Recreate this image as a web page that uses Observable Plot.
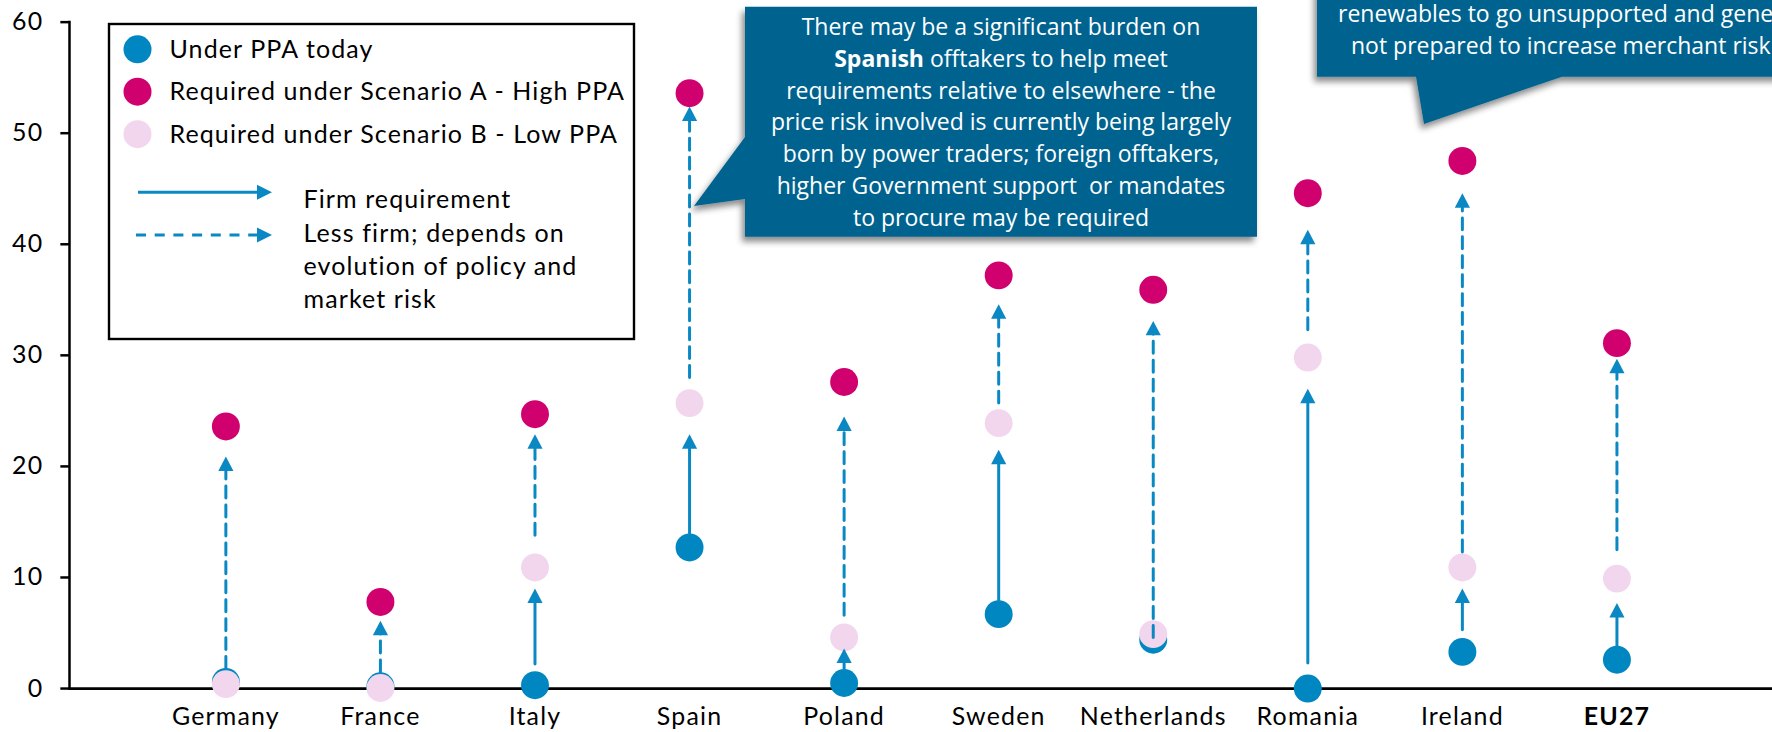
<!DOCTYPE html>
<html><head><meta charset="utf-8">
<script src="https://cdn.jsdelivr.net/npm/d3@7"></script>
<script src="https://cdn.jsdelivr.net/npm/@observablehq/plot@0.6"></script>
<style>
html,body{margin:0;padding:0;background:#fff;overflow:hidden;}
#wrap{position:relative;width:1772px;height:732px;overflow:hidden;background:#fff;}
#wrap svg{display:block;}
#wrap svg.overlay{position:absolute;left:0;top:0;pointer-events:none;}
</style></head><body><div id="wrap"></div>
<script>
// ---- data ----
const countries = ["Germany","France","Italy","Spain","Poland","Sweden","Netherlands","Romania","Ireland","EU27"];
const underPPA  = [0.6, 0.2, 0.3, 12.7, 0.5, 6.7, 4.4, 0.0, 3.3, 2.6];
const scenarioA = [23.6, 7.8, 24.7, 53.6, 27.6, 37.2, 35.9, 44.6, 47.5, 31.1];
const scenarioB = [0.4, 0.05, 10.9, 25.7, 4.6, 23.9, 4.9, 29.8, 10.9, 9.9];

// firm requirement arrows (solid): start value and arrow-tip value
const firmCountries = ["Italy","Spain","Poland","Sweden","Romania","Ireland","EU27"];
const firmFrom = [2.2, 13.9, 1.7, 7.9, 2.3, 5.3, 3.9];
const firmTip  = [9.0, 22.9, 3.6, 21.5, 27.0, 9.0, 7.7];

// less firm arrows (dashed): start value and arrow-tip value
const lessFrom = [1.8, 1.5, 13.8, 28.0, 6.6, 25.7, 4.6, 32.3, 12.3, 12.5];
const lessTip  = [20.9, 6.1, 22.9, 52.4, 24.5, 34.6, 33.1, 41.3, 44.6, 29.7];

const yTicks = [0, 10, 20, 30, 40, 50, 60];

const seriesLabels = ["Under PPA today", "Required under Scenario A - High PPA", "Required under Scenario B - Low PPA"];
const arrowLabels = ["Firm requirement"];
const arrowLabels2 = ["Less firm; depends on", "evolution of policy and", "market risk"];

const callout1Lines = [
  [["There may be a significant burden on", false]],
  [["Spanish", true], [" offtakers to help meet", false]],
  [["requirements relative to elsewhere - the", false]],
  [["price risk involved is currently being largely", false]],
  [["born by power traders; foreign offtakers,", false]],
  [["higher Government support  or mandates", false]],
  [["to procure may be required", false]]
];
const callout2Lines = ["renewables to go unsupported and gene", "not prepared to increase merchant risk"];

const colors = {under: "#0086c0", high: "#d0006f", low: "#f1d6ee", arrow: "#0a88c4", box: "#02648f"};

// ---- tables for the library ----
const points = countries.map((c, i) => ({country: c, under: underPPA[i], high: scenarioA[i], low: scenarioB[i]}));
const firm = firmCountries.map((c, i) => ({country: c, from: firmFrom[i], tip: firmTip[i]}));
const less = countries.map((c, i) => ({country: c, from: lessFrom[i], tip: lessTip[i]}));

// filled arrow head, tip at the anchor point
const head = {draw(ctx) { ctx.moveTo(0, 0); ctx.lineTo(7.6, 14.5); ctx.lineTo(-7.6, 14.5); ctx.closePath(); }};

const FONT = "Lato, 'Open Sans', sans-serif";

const chart = Plot.plot({
  width: 1777, height: 732,
  marginLeft: 69.5, marginRight: 0, marginTop: 21.7, marginBottom: 42,
  style: {fontFamily: FONT, fontSize: "25px", color: "#000", background: "transparent", overflow: "visible", letterSpacing: "1.2px"},
  x: {type: "point", domain: countries, padding: 1, align: 0.5},
  y: {domain: [0, 60]},
  marks: [
    Plot.axisY({ticks: yTicks, tickSize: 9, tickPadding: 17.5, strokeWidth: 2.5, fontSize: 25, label: null, stroke: "#000", fill: "#000"}),
    Plot.axisX(countries.filter(c => c !== "EU27"), {tickSize: 0, tickPadding: 19, fontSize: 25, label: null, fill: "#000"}),
    Plot.axisX(["EU27"], {tickSize: 0, tickPadding: 19, fontSize: 25, fontWeight: "bold", label: null, fill: "#000"}),
    Plot.ruleY([0], {stroke: "#000", strokeWidth: 2.8}),
    Plot.dot(points, {x: "country", y: "under", r: 14, fill: colors.under, stroke: "none"}),
    Plot.dot(points, {x: "country", y: "low", r: 14, fill: colors.low, stroke: "none"}),
    Plot.dot(points, {x: "country", y: "high", r: 14, fill: colors.high, stroke: "none"}),
    Plot.arrow(firm, {x1: "country", x2: "country", y1: "from", y2: "tip", insetEnd: 13, headLength: 0, stroke: colors.arrow, strokeWidth: 3}),
    Plot.arrow(less, {x1: "country", x2: "country", y1: "from", y2: "tip", insetEnd: 13, headLength: 0, stroke: colors.arrow, strokeWidth: 3, strokeDasharray: "12,7"}),
    Plot.dot(firm, {x: "country", y: "tip", symbol: head, r: 5, fill: colors.arrow, stroke: "none"}),
    Plot.dot(less, {x: "country", y: "tip", symbol: head, r: 5, fill: colors.arrow, stroke: "none"})
  ]
});
document.getElementById("wrap").appendChild(chart);

// ---- overlay: axis line, legend and callouts ----
const xs = chart.scale("x"), ys = chart.scale("y");
const svg = d3.select("#wrap").append("svg").attr("class", "overlay")
  .attr("width", 1772).attr("height", 732).attr("viewBox", "0 0 1772 732");
const f = svg.append("defs").append("filter").attr("id", "shadow")
  .attr("x", "-20%").attr("y", "-30%").attr("width", "140%").attr("height", "170%");
f.append("feDropShadow").attr("dx", -3).attr("dy", 5).attr("stdDeviation", 3)
  .attr("flood-color", "#000").attr("flood-opacity", 0.45);

// y axis line, from the chart's own scales
svg.append("line")
  .attr("x1", xs.range[0]).attr("x2", xs.range[0])
  .attr("y1", ys.apply(yTicks[yTicks.length - 1]) - 1).attr("y2", ys.apply(0))
  .attr("stroke", "#000").attr("stroke-width", 2.5);

// legend
const lg = svg.append("g").attr("font-family", FONT).attr("font-size", 25).attr("fill", "#000")
  .attr("letter-spacing", "1.1px");
lg.append("rect").attr("x", 109).attr("y", 24).attr("width", 525).attr("height", 315)
  .attr("fill", "#fff").attr("stroke", "#000").attr("stroke-width", 2.4);
const legColors = [colors.under, colors.high, colors.low];
const legY = [49.3, 91.7, 134.2];
seriesLabels.forEach((t, i) => {
  lg.append("circle").attr("cx", 137.5).attr("cy", legY[i]).attr("r", 14).attr("fill", legColors[i]);
  lg.append("text").attr("x", 169.5).attr("y", legY[i] + 8.5).text(t);
});
// arrow samples
lg.append("line").attr("x1", 138).attr("x2", 258).attr("y1", 192.3).attr("y2", 192.3)
  .attr("stroke", colors.arrow).attr("stroke-width", 3);
lg.append("path").attr("d", "M272,192.3L257,184.8L257,199.8Z").attr("fill", colors.arrow);
lg.append("line").attr("x1", 136).attr("x2", 258).attr("y1", 235).attr("y2", 235)
  .attr("stroke", colors.arrow).attr("stroke-width", 3).attr("stroke-dasharray", "10,8.7");
lg.append("path").attr("d", "M272,235L257,227.5L257,242.5Z").attr("fill", colors.arrow);
lg.append("text").attr("x", 303.5).attr("y", 208.3).text(arrowLabels[0]);
arrowLabels2.forEach((t, i) => lg.append("text").attr("x", 303.5).attr("y", 241.7 + i * 33).text(t));

// callout 1 (Spain)
const c1 = svg.append("g");
c1.append("path")
  .attr("d", "M745,6.7L1257,6.7L1257,236.7L745,236.7L745,199L694,206L745,137Z")
  .attr("fill", colors.box).attr("filter", "url(#shadow)");
const t1 = c1.append("text").attr("font-family", "'Open Sans', sans-serif").attr("font-size", 23)
  .attr("fill", "#fff").attr("text-anchor", "middle").style("white-space", "pre");
callout1Lines.forEach((parts, i) => {
  const line = t1.append("tspan").attr("x", 1001).attr("y", 35 + i * 31.8);
  parts.forEach(([s, b]) => {
    const sp = line.append("tspan").text(s);
    if (b) sp.attr("font-weight", "bold");
  });
});

// callout 2 (top right, cropped in the reference)
const c2 = svg.append("g");
c2.append("path")
  .attr("d", "M1317,-60L1950,-60L1950,76.7L1562,76.7L1424,124L1416,76.7L1317,76.7Z")
  .attr("fill", colors.box).attr("filter", "url(#shadow)");
const t2 = c2.append("text").attr("font-family", "'Open Sans', sans-serif").attr("font-size", 23)
  .attr("fill", "#fff");
t2.append("tspan").attr("x", 1338).attr("y", 21.5).text(callout2Lines[0]);
t2.append("tspan").attr("x", 1351).attr("y", 53.8).text(callout2Lines[1]);
</script>
</body></html>
